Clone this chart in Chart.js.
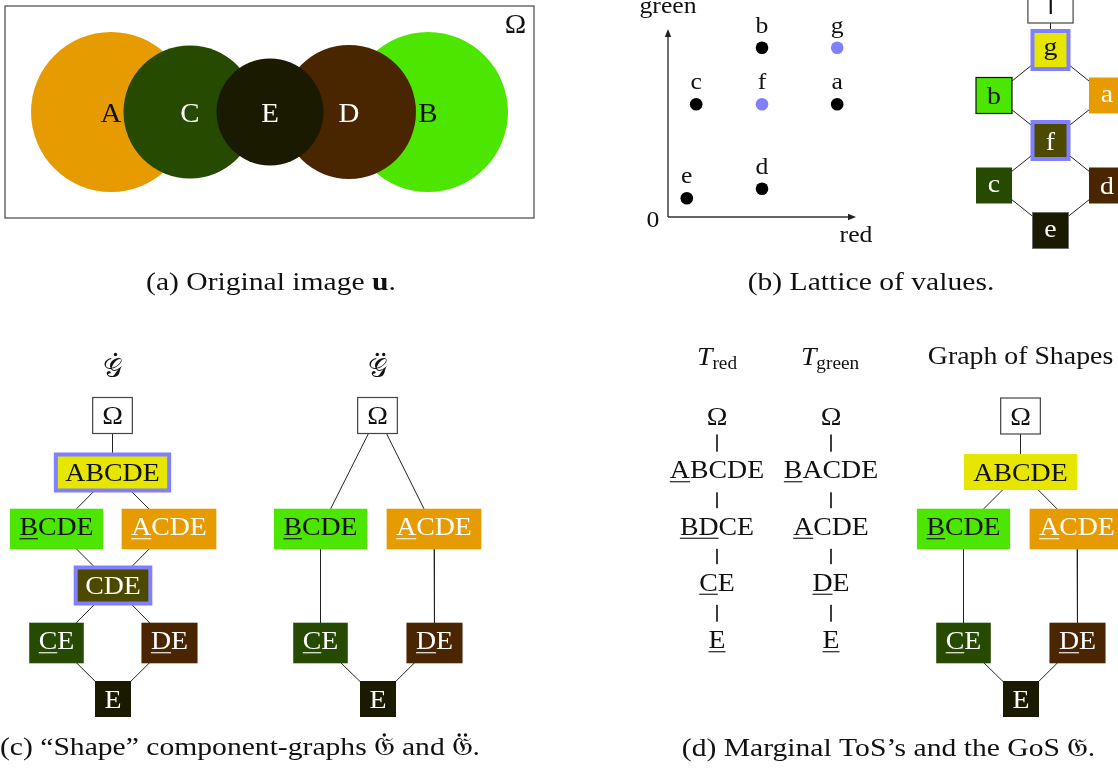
<!DOCTYPE html>
<html><head><meta charset="utf-8">
<script src="https://cdn.jsdelivr.net/npm/chart.js@4.4.1/dist/chart.umd.min.js"></script>
<style>
html,body{margin:0;padding:0;background:#fff;}
#wrap{position:relative;width:1118px;height:769px;overflow:hidden;background:#fff;}
#main{position:absolute;left:0;top:0;}
#lat{position:absolute;left:600px;top:0;}
</style></head><body>
<div id="wrap"><canvas id="main" width="1118" height="769"></canvas><canvas id="lat" width="300" height="260"></canvas></div>
<script>
// ================= DATA =================
// (a) regions of the original image
const regionLabels = ['A','B','C','D','E'];
// (b) lattice of values (red, green) of each value
const valueLabels = ['a','b','c','d','e','f','g'];
const redValues   = [9, 5, 1.5, 5, 1, 5, 9];
const greenValues = [6, 9, 6, 1.5, 1, 6, 9];
const valueHighlighted = [false,false,false,false,false,true,true];
const axisMax = 10;
// (b) Hasse diagram of the lattice
const latNames = ['\u22A4','g','b','a','f','c','d','e'];
const latEdges = [[0,1],[1,2],[1,3],[2,4],[3,4],[4,5],[4,6],[5,7],[6,7]];
const latHighlight = ['g','f'];
// (c) component graph G-dot
const gDotNames = ['\u03A9','ABCDE','BCDE','ACDE','CDE','CE','DE','E'];
const gDotUnder = [0,0,1,1,0,1,1,0];
const gDotEdges = [[0,1],[1,2],[1,3],[2,4],[3,4],[4,5],[4,6],[5,7],[6,7]];
const gDotHighlight = ['ABCDE','CDE'];
// (c) component graph G-ddot
const gDDotNames = ['\u03A9','BCDE','ACDE','CE','DE','E'];
const gDDotUnder = [0,1,1,1,1,0];
const gDDotEdges = [[0,1],[0,2],[1,3],[2,4],[3,5],[4,5]];
// (d) marginal trees of shapes
const tRedNames = ['\u03A9','ABCDE','BDCE','CE','E'];
const tRedUnder = [0,1,2,1,1];
const tGreenNames = ['\u03A9','BACDE','ACDE','DE','E'];
const tGreenUnder = [0,1,1,1,1];
const tEdges = [[0,1],[1,2],[2,3],[3,4]];
// (d) graph of shapes
const gosNames = ['\u03A9','ABCDE','BCDE','ACDE','CE','DE','E'];
const gosUnder = [0,0,1,1,1,1,0];
const gosEdges = [[0,1],[1,2],[1,3],[2,4],[3,5],[4,6],[5,6]];

// ================= LAYOUT & STYLE =================
const regionPos = {A:[111,112,80], B:[428,112,80], C:[190,112,66.5], D:[349,112,67], E:[270,112,53.5]};
const regionOrder = ['A','B','C','D','E'];
const fillOf = {'\u03A9':'#ffffff','\u22A4':'#ffffff',
  A:'#E69B00',B:'#4CE600',C:'#264A00',D:'#4A2600',E:'#1A1A00',
  ABCDE:'#E6E600',BCDE:'#4CE600',ACDE:'#E69B00',CDE:'#4D4A00',CE:'#264A00',DE:'#4A2600',
  g:'#E6E600',b:'#4CE600',a:'#E69B00',f:'#4D4A00',c:'#264A00',d:'#4A2600',e:'#1A1A00'};
const darkFills = ['#E69B00','#264A00','#4A2600','#1A1A00','#4D4A00'];
const latX = [1050.5,1050.5,994,1107,1050.5,994,1107,1050.5];
const latY = [4.5,50,95.5,95.5,140.5,185.5,185.5,230.5];
const gDotX = [112.5,112.5,56.5,169,113,56.5,169.5,113];
const gDotY = [415.5,472.5,529,529,585.5,643,643,699];
const gDDotX = [377.5,320.5,434,320.5,434.5,378];
const gDDotY = [415.5,529,529,643,643,699];
const tRedX = 717, tGreenX = 831;
const tY = [416.5,472,528.5,584.5,642];
const gosX = [1020.5,1020.5,963.5,1077,963.5,1077.5,1021];
const gosY = [416,472,529,529,643,643,699];

const CM = '"Liberation Serif","DejaVu Serif",serif';
const SX = 1.07;      // horizontal stretch to mimic Computer Modern widths
const NODE_FS = 26;
const HL = '#8080FF';
const EDGE = '#222222';

function isDark(c){ return darkFills.indexOf(c) >= 0; }

// ================= HELPERS =================
function runsWidth(ctx, runs){ let w=0; for(const r of runs){ ctx.font=r.font; w+=ctx.measureText(r.t).width; } return w; }
function drawRuns(ctx, runs, x, y, align, sx, color){
  const w = runsWidth(ctx, runs)*sx;
  const x0 = align==='center' ? x-w/2 : (align==='right' ? x-w : x);
  ctx.save(); ctx.translate(x0, y); ctx.scale(sx,1);
  ctx.fillStyle=color; ctx.textAlign='left'; ctx.textBaseline='alphabetic';
  let cx=0;
  for(const r of runs){
    ctx.font=r.font;
    const m = ctx.measureText(r.t);
    ctx.fillText(r.t, cx, r.dy||0);
    if(r.dots){
      const gx = cx + m.width/2 + (r.dotShift||0);
      const gy = -m.actualBoundingBoxAscent - (r.dotGap||4.5);
      const xs = r.dots===1 ? [gx] : [gx-3.2/sx, gx+3.2/sx];
      xs.forEach(px => { ctx.beginPath(); ctx.ellipse(px, gy, 1.7/sx, 1.7, 0, 0, Math.PI*2); ctx.fill(); });
    }
    cx+=m.width;
  }
  ctx.restore();
}
function drawNode(ctx, px, py, label, ul, opts){
  ctx.font = NODE_FS+'px '+CM;
  const m = ctx.measureText(label);
  const tw = m.width*SX;
  const asc = m.actualBoundingBoxAscent;
  let desc = m.actualBoundingBoxDescent;
  if(ul) desc = Math.max(desc, 4.6);
  let w = Math.max(36, tw+19), h = Math.max(36, asc+desc+19);
  if(opts.plain) w = tw + 4;
  const fill = opts.plain ? '#ffffff' : (fillOf[label] || '#ffffff');
  ctx.fillStyle = fill;
  ctx.fillRect(px-w/2, py-h/2, w, h);
  if(opts.highlight){ ctx.strokeStyle=HL; ctx.lineWidth=4; ctx.strokeRect(px-w/2, py-h/2, w, h); }
  else if(opts.border){ ctx.strokeStyle=opts.border; ctx.lineWidth=opts.bw||1.2; ctx.strokeRect(px-w/2, py-h/2, w, h); }
  const col = opts.plain ? '#111' : (isDark(fill) ? '#ffffff' : '#111111');
  const base = py + (asc-desc)/2;
  const x0 = px - tw/2;
  ctx.save(); ctx.translate(x0, base); ctx.scale(SX,1);
  ctx.fillStyle=col; ctx.textAlign='left'; ctx.textBaseline='alphabetic';
  ctx.fillText(label, 0, 0);
  if(ul){
    const uw = ctx.measureText(label.slice(0,ul)).width;
    ctx.fillRect(0, 3, uw, 1.1);
  }
  ctx.restore();
}
function edgeSets(xs, ys, edges){
  return edges.map(e => ({
    type:'scatter', showLine:true, pointRadius:0, borderColor:EDGE, borderWidth:1, fill:false,
    data:[{x:xs[e[0]], y:ys[e[0]]},{x:xs[e[1]], y:ys[e[1]]}]
  }));
}

// ================= MAIN DIAGRAM CHART =================
const bubbleSet = {
  type:'bubble',
  data: regionOrder.map(k => ({x:regionPos[k][0], y:regionPos[k][1], r:regionPos[k][2], label:k})),
  backgroundColor: regionOrder.map(k => fillOf[k]),
  borderWidth:0, hoverRadius:0
};
const tRedXs = tRedNames.map(()=>tRedX), tGreenXs = tGreenNames.map(()=>tGreenX);
const datasets = [bubbleSet]
  .concat(edgeSets(latX, latY, latEdges))
  .concat(edgeSets(gDotX, gDotY, gDotEdges))
  .concat(edgeSets(gDDotX, gDDotY, gDDotEdges))
  .concat(edgeSets(tRedXs, tY, tEdges))
  .concat(edgeSets(tGreenXs, tY, tEdges))
  .concat(edgeSets(gosX, gosY, gosEdges));

const FRAK = '\u{1D50A}';
const SCRG = '\u{1D4A2}';

const diagramPlugin = {
  id:'diagram',
  afterDatasetsDraw(chart){
    const ctx = chart.ctx, xs = chart.scales.x, ys = chart.scales.y;
    const X = v => xs.getPixelForValue(v), Y = v => ys.getPixelForValue(v);
    ctx.save();
    // frame of the image (a)
    ctx.strokeStyle='#555'; ctx.lineWidth=1.3;
    ctx.strokeRect(X(5), Y(6), X(534)-X(5), Y(218)-Y(6));
    drawRuns(ctx, [{t:'\u03A9', font:'27px '+CM}], X(515.5), Y(33), 'center', SX, '#111');
    // region labels
    const meta = chart.getDatasetMeta(0);
    meta.data.forEach((el,i) => {
      const k = regionOrder[i];
      drawRuns(ctx, [{t:k, font:'27px '+CM}], el.x, el.y+9.5, 'center', SX, isDark(fillOf[k]) && k!=='A' ? '#ffffff' : '#111');
    });
    // lattice graph (b)
    latNames.forEach((n,i) => {
      const o = {highlight: latHighlight.indexOf(n)>=0};
      if(n==='\u22A4') o.border='#444';
      if(n==='b') o.border='#111';
      if(n==='e') o.border='#666', o.bw=0.8;
      drawNode(ctx, X(latX[i]), Y(latY[i]), n, 0, o);
    });
    // (c) G-dot
    gDotNames.forEach((n,i) => drawNode(ctx, X(gDotX[i]), Y(gDotY[i]), n, gDotUnder[i],
      {highlight: gDotHighlight.indexOf(n)>=0, border: n==='\u03A9' ? '#444' : null}));
    gDDotNames.forEach((n,i) => drawNode(ctx, X(gDDotX[i]), Y(gDDotY[i]), n, gDDotUnder[i],
      {border: n==='\u03A9' ? '#444' : null}));
    // (d) marginal trees
    tRedNames.forEach((n,i) => drawNode(ctx, X(tRedX), Y(tY[i]), n, tRedUnder[i], {plain:true}));
    tGreenNames.forEach((n,i) => drawNode(ctx, X(tGreenX), Y(tY[i]), n, tGreenUnder[i], {plain:true}));
    gosNames.forEach((n,i) => drawNode(ctx, X(gosX[i]), Y(gosY[i]), n, gosUnder[i],
      {border: n==='\u03A9' ? '#444' : null}));
    // titles
    const sf = '"DejaVu Sans","DejaVu Serif",serif';
    drawRuns(ctx, [{t:SCRG, font:'27px '+sf, dots:1, dotShift:3, dotGap:3.5}], X(112.5), Y(377), 'center', 1, '#111');
    drawRuns(ctx, [{t:SCRG, font:'27px '+sf, dots:2, dotShift:3, dotGap:3.5}], X(377.5), Y(377), 'center', 1, '#111');
    drawRuns(ctx, [{t:'T', font:'italic 26px '+CM},{t:'red', font:'18px '+CM, dy:3.5}], X(717), Y(365), 'center', SX, '#111');
    drawRuns(ctx, [{t:'T', font:'italic 26px '+CM},{t:'green', font:'18px '+CM, dy:3.5}], X(830), Y(365), 'center', SX, '#111');
    drawRuns(ctx, [{t:'Graph of Shapes', font:'26px '+CM}], X(1020.5), Y(364), 'center', SX, '#111');
    // captions
    const CF = '26px "Liberation Serif",serif';
    const CFB = 'bold 26px "Liberation Serif",serif';
    const FF = '26px "DejaVu Sans","DejaVu Serif",serif';
    const capC = [{t:'(c) \u201CShape\u201D component-graphs ', font:CF},{t:FRAK, font:FF, dots:1, dotGap:3},{t:' and ', font:CF},{t:FRAK, font:FF, dots:2, dotGap:3},{t:'.', font:CF}];
    const csx = 480 / runsWidth(ctx, capC);
    drawRuns(ctx, [{t:'(a) Original image ', font:CF},{t:'u', font:CFB},{t:'.', font:CF}], X(271), Y(290), 'center', csx, '#111');
    drawRuns(ctx, [{t:'(b) Lattice of values.', font:CF}], X(871), Y(290), 'center', csx, '#111');
    drawRuns(ctx, capC, X(240), Y(755), 'center', csx, '#111');
    drawRuns(ctx, [{t:'(d) Marginal ToS\u2019s and the GoS ', font:CF},{t:FRAK, font:FF},{t:'.', font:CF}], X(888.5), Y(756), 'center', csx, '#111');
    ctx.restore();
  }
};

new Chart(document.getElementById('main'), {
  type:'scatter',
  data:{ datasets },
  options:{
    responsive:false, animation:false, events:[], devicePixelRatio:1,
    layout:{padding:0, autoPadding:false},
    plugins:{legend:{display:false}, tooltip:{enabled:false}},
    scales:{
      x:{type:'linear', min:0, max:1118, display:false},
      y:{type:'linear', min:0, max:769, reverse:true, display:false}
    }
  },
  plugins:[diagramPlugin]
});

// ================= (b) SCATTER OF VALUES =================
const axesPlugin = {
  id:'arrows',
  beforeDatasetsDraw(chart){
    const ctx=chart.ctx, X=v=>chart.scales.x.getPixelForValue(v), Y=v=>chart.scales.y.getPixelForValue(v);
    ctx.save(); ctx.strokeStyle='#333'; ctx.fillStyle='#222'; ctx.lineWidth=1.4;
    const ox=X(0), oy=Y(0), tx=X(axisMax), ty=Y(axisMax);
    ctx.beginPath(); ctx.moveTo(ox,oy); ctx.lineTo(tx-6,oy); ctx.moveTo(ox,oy); ctx.lineTo(ox,ty+6); ctx.stroke();
    ctx.beginPath(); ctx.moveTo(tx,oy); ctx.lineTo(tx-8,oy-3.2); ctx.lineTo(tx-8,oy+3.2); ctx.closePath(); ctx.fill();
    ctx.beginPath(); ctx.moveTo(ox,ty); ctx.lineTo(ox-3.2,ty+8); ctx.lineTo(ox+3.2,ty+8); ctx.closePath(); ctx.fill();
    ctx.restore();
  },
  afterDatasetsDraw(chart){
    const ctx=chart.ctx, X=v=>chart.scales.x.getPixelForValue(v), Y=v=>chart.scales.y.getPixelForValue(v);
    const f='24px '+CM;
    drawRuns(ctx,[{t:'green',font:f}], X(0), Y(axisMax)-16.5, 'center', SX, '#111');
    drawRuns(ctx,[{t:'red',font:f}], X(axisMax), Y(0)+25, 'center', SX, '#111');
    drawRuns(ctx,[{t:'0',font:f}], X(0)-15, Y(0)+10, 'center', SX, '#111');
    valueLabels.forEach((l,i)=>drawRuns(ctx,[{t:l,font:f}], X(redValues[i]), Y(greenValues[i])-15, 'center', SX, '#111'));
  }
};
const ptColors = valueHighlighted.map(h => h ? HL : '#000000');
new Chart(document.getElementById('lat'), {
  type:'scatter',
  data:{datasets:[{
    data: valueLabels.map((l,i)=>({x:redValues[i], y:greenValues[i]})),
    pointBackgroundColor: ptColors, pointBorderColor: ptColors,
    pointRadius:6.3, borderWidth:0, clip:false
  }]},
  options:{
    responsive:false, animation:false, events:[], devicePixelRatio:1,
    layout:{padding:{left:68, right:44, top:29, bottom:43}, autoPadding:false},
    plugins:{legend:{display:false}, tooltip:{enabled:false}},
    scales:{ x:{type:'linear',min:0,max:axisMax,display:false}, y:{type:'linear',min:0,max:axisMax,display:false} }
  },
  plugins:[axesPlugin]
});
</script>
</body></html>
